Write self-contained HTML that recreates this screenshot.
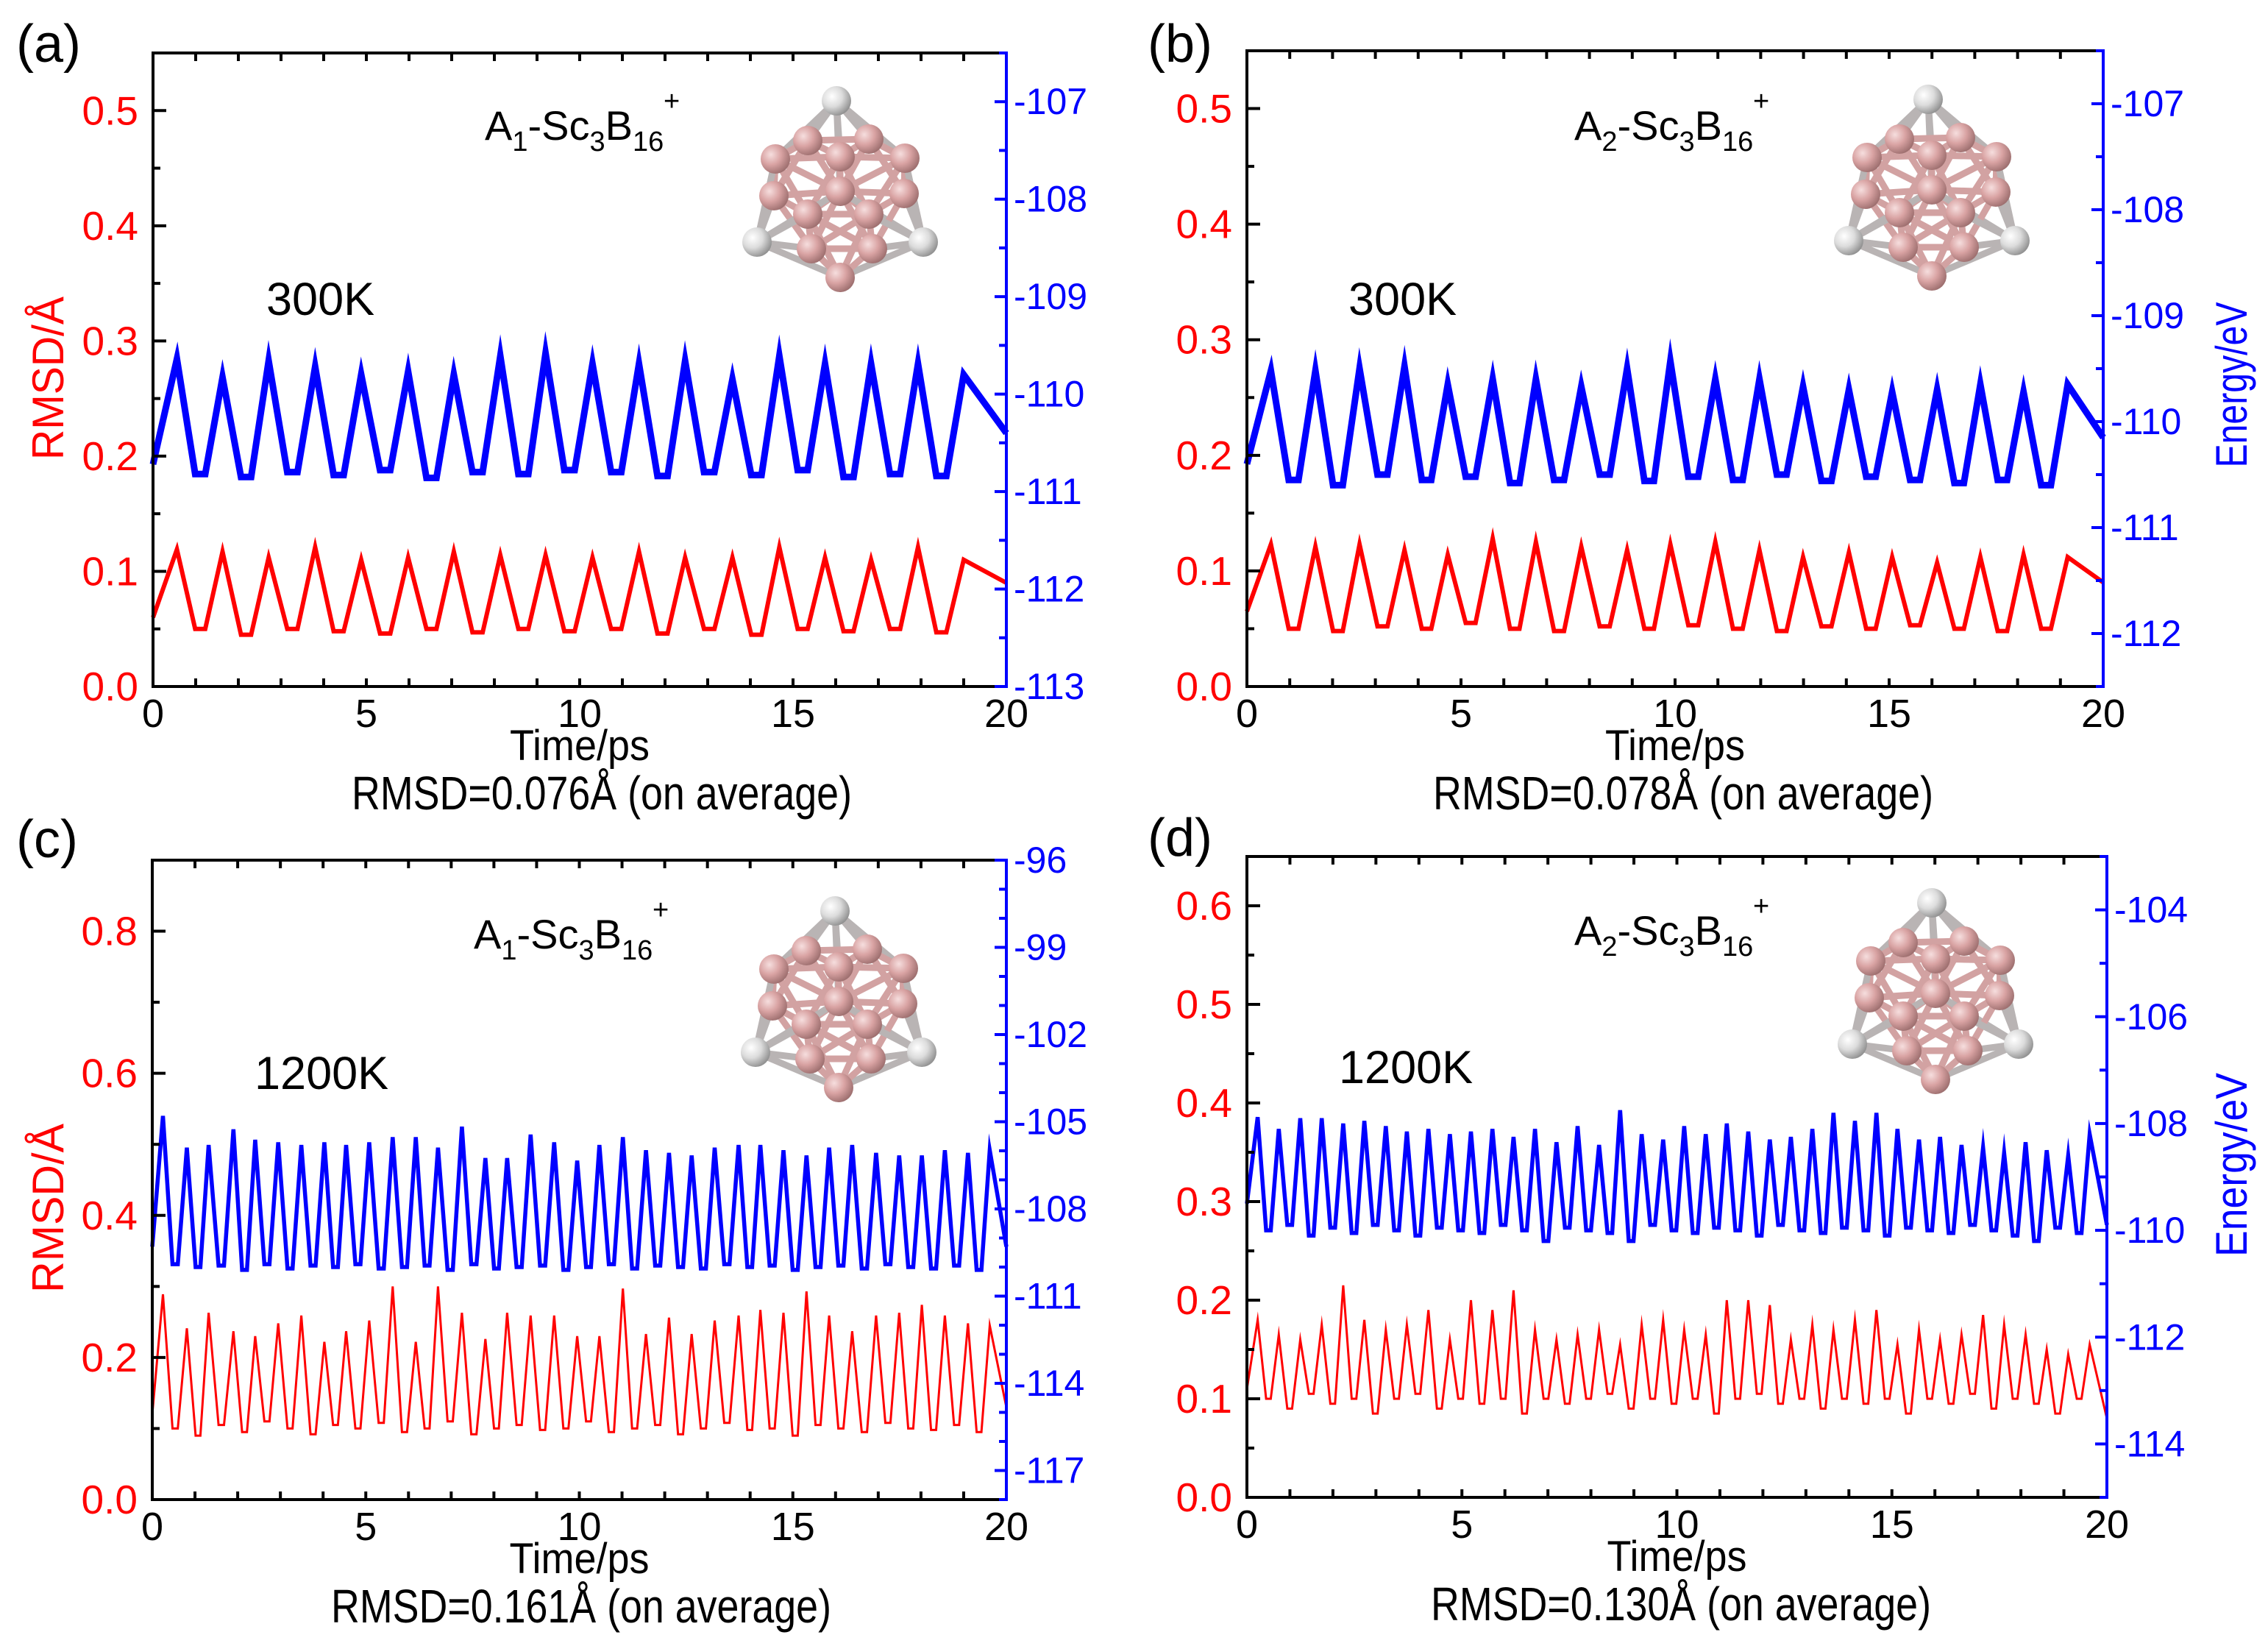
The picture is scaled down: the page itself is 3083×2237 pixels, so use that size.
<!DOCTYPE html>
<html><head><meta charset="utf-8"><style>
html,body{margin:0;padding:0;background:#fff;}
svg{display:block;font-family:"Liberation Sans",Arial,sans-serif;}
</style></head><body>
<svg id="fig" width="3083" height="2237" viewBox="0 0 3083 2237" xmlns="http://www.w3.org/2000/svg">
<defs>
<radialGradient id="gPink" cx="0.35" cy="0.35" r="0.7"><stop offset="0" stop-color="#f6dede"/><stop offset="0.5" stop-color="#d9a3a3"/><stop offset="1" stop-color="#9c6e6e"/></radialGradient>
<radialGradient id="gWhite" cx="0.35" cy="0.35" r="0.7"><stop offset="0" stop-color="#ffffff"/><stop offset="0.5" stop-color="#dcdcdc"/><stop offset="1" stop-color="#8f8f8f"/></radialGradient>
</defs>
</svg>
<script>
// ---------- DATA ----------
const timeTicks = [0,5,10,15,20];
// panel a (300K, A1)
const aPeakT = [0.56,1.63,2.71,3.8,4.88,5.98,7.05,8.14,9.2,10.3,11.39,12.47,13.58,14.68,15.75,16.83,17.93,19.0];
const aEnergyPeaks = [-109.64,-109.83,-109.66,-109.72,-109.80,-109.77,-109.80,-109.61,-109.58,-109.69,-109.69,-109.66,-109.85,-109.61,-109.69,-109.69,-109.69,-109.80];
const aEnergyTroughs = [-110.72,-110.82,-110.85,-110.8,-110.83,-110.78,-110.86,-110.8,-110.82,-110.78,-110.8,-110.84,-110.8,-110.83,-110.78,-110.85,-110.82,-110.84,-110.4];
const aRmsdPeaks = [0.119,0.117,0.112,0.121,0.110,0.112,0.117,0.114,0.114,0.112,0.117,0.112,0.112,0.121,0.112,0.110,0.121,0.110];
const aRmsdTroughs = [0.06,0.05,0.045,0.05,0.048,0.046,0.05,0.047,0.05,0.048,0.05,0.046,0.05,0.045,0.05,0.048,0.05,0.047,0.09];
// panel b (300K, A2)
const bPeakT = [0.56,1.6,2.63,3.68,4.69,5.74,6.75,7.81,8.88,9.89,10.94,11.97,12.99,14.06,15.07,16.12,17.13,18.14,19.17];
const bEnergyPeaks = [-109.52,-109.52,-109.50,-109.48,-109.65,-109.60,-109.60,-109.67,-109.50,-109.43,-109.60,-109.60,-109.67,-109.70,-109.72,-109.70,-109.65,-109.72,-109.65];
const bEnergyTroughs = [-110.4,-110.55,-110.6,-110.5,-110.55,-110.52,-110.58,-110.55,-110.5,-110.56,-110.52,-110.55,-110.5,-110.56,-110.52,-110.55,-110.58,-110.55,-110.6,-110.15];
const bRmsdPeaks = [0.123,0.121,0.123,0.118,0.114,0.128,0.125,0.121,0.118,0.123,0.125,0.118,0.112,0.116,0.112,0.107,0.112,0.114,0.112];
const bRmsdTroughs = [0.065,0.05,0.048,0.052,0.05,0.055,0.05,0.048,0.052,0.05,0.053,0.05,0.048,0.052,0.05,0.053,0.05,0.048,0.05,0.09];
// panel c (1200K, A1)
const cPeakT = [0.25,0.81,1.32,1.9,2.41,2.95,3.49,4.03,4.54,5.08,
  5.63,6.17,6.69,7.25,7.8,8.31,8.86,9.41,9.95,10.47,
  11.02,11.56,12.1,12.63,13.17,13.73,14.24,14.78,15.32,15.85,
  16.39,16.95,17.49,18.02,18.56,19.1,19.61];
const cEnergyPeaks = [-104.80,-105.89,-105.80,-105.26,-105.62,-105.71,-105.80,-105.71,-105.80,-105.71,
  -105.53,-105.53,-105.89,-105.17,-106.25,-106.25,-105.44,-105.71,-106.34,-105.80,
  -105.53,-105.98,-106.07,-106.16,-105.89,-105.80,-105.80,-105.98,-106.16,-105.89,
  -105.80,-106.07,-106.16,-106.16,-105.98,-106.07,-105.98];
const cEnergyTroughs = [-109.3,
  -109.9,-110.0,-109.95,-110.1,-109.9,-110.05,-109.95,-110.0,-109.9,-110.05,
  -110.0,-109.95,-110.1,-109.9,-110.05,-110.0,-109.95,-110.1,-110.0,-109.9,
  -110.05,-109.95,-110.0,-110.05,-109.9,-110.0,-109.95,-110.1,-110.0,-109.95,
  -110.05,-109.9,-110.0,-110.05,-109.95,-110.1,
  -109.3];
const cRmsdPeaks = [0.289,0.241,0.263,0.237,0.230,0.248,0.259,0.222,0.237,0.252,
  0.300,0.222,0.300,0.263,0.226,0.263,0.259,0.259,0.230,0.230,
  0.297,0.233,0.256,0.233,0.252,0.259,0.267,0.263,0.293,0.259,
  0.237,0.259,0.263,0.274,0.259,0.248,0.245];
const cRmsdTroughs = [0.12,
  0.1,0.09,0.105,0.095,0.11,0.1,0.092,0.105,0.1,0.108,
  0.095,0.1,0.11,0.092,0.1,0.105,0.098,0.1,0.11,0.095,
  0.1,0.105,0.092,0.1,0.108,0.098,0.1,0.09,0.105,0.1,
  0.095,0.108,0.1,0.098,0.105,0.095,
  0.13];
// panel d (1200K, A2)
const dPeakT = [0.25,0.74,1.24,1.74,2.24,2.73,3.23,3.72,4.22,4.72,
  5.21,5.71,6.2,6.7,7.2,7.69,8.19,8.68,9.18,9.68,
  10.17,10.67,11.16,11.66,12.16,12.65,13.15,13.64,14.14,14.64,
  15.13,15.63,16.12,16.62,17.12,17.61,18.11,18.6,19.1,19.6];
const dEnergyPeaks = [-107.88,-108.1,-107.9,-107.9,-108.0,-107.95,-108.05,-108.15,-108.1,-108.2,
  -108.15,-108.1,-108.25,-108.1,-108.35,-108.05,-108.4,-107.75,-108.2,-108.3,
  -108.05,-108.2,-108.0,-108.15,-108.3,-108.25,-108.1,-107.8,-107.95,-107.8,
  -108.1,-108.3,-108.25,-108.4,-108.45,-108.55,-108.35,-108.5,-108.6,-108.2];
const dEnergyTroughs = [-109.5,
  -110.0,-109.9,-110.1,-109.95,-110.05,-109.9,-110.0,-110.1,-109.95,-110.0,
  -110.05,-109.9,-110.0,-110.2,-109.95,-110.0,-110.05,-110.2,-109.9,-110.0,
  -110.05,-109.95,-110.0,-110.1,-109.9,-110.0,-110.05,-109.95,-110.0,-110.1,
  -109.95,-110.0,-110.05,-109.9,-110.0,-110.1,-110.2,-109.95,-110.05,
  -109.9];
const dRmsdPeaks = [0.18,0.165,0.16,0.175,0.215,0.18,0.17,0.175,0.19,0.16,
  0.2,0.19,0.21,0.17,0.16,0.165,0.17,0.155,0.175,0.18,
  0.17,0.165,0.2,0.2,0.195,0.16,0.175,0.17,0.18,0.19,
  0.155,0.17,0.16,0.165,0.185,0.175,0.165,0.15,0.145,0.155];
const dRmsdTroughs = [0.11,
  0.1,0.09,0.105,0.095,0.1,0.085,0.1,0.105,0.09,0.1,
  0.095,0.1,0.085,0.1,0.095,0.1,0.105,0.09,0.1,0.095,
  0.1,0.085,0.1,0.105,0.095,0.1,0.09,0.1,0.095,0.1,
  0.085,0.1,0.095,0.105,0.09,0.1,0.095,0.085,0.1,
  0.08];

// ---------- DRAWING ----------
const NS = 'http://www.w3.org/2000/svg';
const svg = document.getElementById('fig');
function mk(tag, attrs, parent){
  const e = document.createElementNS(NS, tag);
  for (const k in attrs) e.setAttribute(k, attrs[k]);
  (parent||svg).appendChild(e);
  return e;
}
function fmtL(v, d){ return v.toFixed(d); }

const atoms = [[-5,-122,1],[-44,-68,0],[39,-70,0],[-88,-43,0],[88,-44,0],[0,-46,0],
  [-90,7,0],[0,1,0],[87,4,0],[-44,32,0],[39,32,0],[-113,70,1],[113,70,1],[-39,79,0],[44,79,0],[0,118,0]];

function molecule(cx, cy, name){
  const g = mk('g', {transform:'translate('+cx+','+cy+')'});
  
  
  for (let i=0;i<atoms.length;i++) for (let j=i+1;j<atoms.length;j++){
    const dx=atoms[i][0]-atoms[j][0], dy=atoms[i][1]-atoms[j][1];
    const dist=Math.sqrt(dx*dx+dy*dy);
    const lim = (atoms[i][2]||atoms[j][2]) ? 135 : 100;
    if (dist<lim){
      const white = atoms[i][2]||atoms[j][2];
      const l = mk('line',{x1:atoms[i][0],y1:atoms[i][1],x2:atoms[j][0],y2:atoms[j][1],stroke:white?'#b9b4b4':'#d2a2a2','stroke-width':9,'stroke-linecap':'round'},g);
      
      
    }
  }
  const order = atoms.map((a,i)=>i).sort((p,q)=>atoms[p][1]-atoms[q][1]);
  for (const i of order){
    const a = atoms[i];
    const c = mk('circle',{cx:a[0],cy:a[1],r:a[2]?20:20,fill:a[2]?'url(#gWhite)':'url(#gPink)'},g);
    
    
  }
}

function panel(cfg){
  const {L,R,T,B,yl,yr} = cfg;
  const g = mk('g',{});
  
  
  const X = t => L + (t-0)/(20-0)*(R-L);
  const YL = v => B - (v-yl[0])/(yl[1]-yl[0])*(B-T);
  const YR = v => B - (v-yr[0])/(yr[1]-yr[0])*(B-T);

  function series(peakT, peaks, troughs, Y, color, w, name){
    const pts = [[X(0), Y(troughs[0])]];
    for (let i=0;i<peakT.length;i++){
      if (i>0){
        const a = peakT[i-1], b = peakT[i], gap = b-a;
        pts.push([X(a+0.4*gap), Y(troughs[i])]);
        pts.push([X(a+0.62*gap), Y(troughs[i])]);
      }
      pts.push([X(peakT[i]), Y(peaks[i])]);
    }
    pts.push([X(20), Y(troughs[troughs.length-1])]);
    const p = mk('polyline',{points:pts.map(p=>p[0].toFixed(1)+','+p[1].toFixed(1)).join(' '),fill:'none',stroke:color,'stroke-width':w,'stroke-linejoin':'miter','stroke-miterlimit':10},g);
    
    
  }
  series(cfg.peakT, cfg.eP, cfg.eT, YR, '#0000ff', cfg.wb, 'energy-line');
  series(cfg.peakT, cfg.rP, cfg.rT, YL, '#ff0000', cfg.wr, 'rmsd-line');

  const f1 = mk('polyline',{points:`${R},${T} ${L},${T} ${L},${B} ${R},${B}`,fill:'none',stroke:'#000','stroke-width':4},g);
  
  
  const f2 = mk('line',{x1:R,y1:T-2,x2:R,y2:B+2,stroke:'#0000ff','stroke-width':4},g);
  
  

  for (let t=1;t<20;t++){
    mk('line',{x1:X(t),y1:B,x2:X(t),y2:B-11,stroke:'#000','stroke-width':4},g);
    mk('line',{x1:X(t),y1:T,x2:X(t),y2:T+11,stroke:'#000','stroke-width':4},g);
  }
  for (const t of timeTicks){
    const tx = mk('text',{x:X(t),y:B+55,'font-size':54,'text-anchor':'middle',fill:'#000'},g);
    tx.textContent = String(t);
    
    
  }
  for (let v=yl[0]; v<=yl[1]+1e-9; v+=cfg.lMinor){
    const major = Math.abs(v/cfg.lMajor - Math.round(v/cfg.lMajor))<1e-6;
    if (v<=yl[0]+1e-9) continue;
    mk('line',{x1:L,y1:YL(v),x2:L+(major?18:10),y2:YL(v),stroke:'#000','stroke-width':4},g);
  }
  for (let v=yl[0]; v<=cfg.lMax+1e-9; v+=cfg.lMajor){
    const tx = mk('text',{x:L-20,y:YL(v)+19,'font-size':55,'text-anchor':'end',fill:'#ff0000'},g);
    tx.textContent = fmtL(v,1);
    
    
  }
  for (let v=Math.ceil(yr[0]/cfg.rMinor)*cfg.rMinor; v<=yr[1]+1e-9; v+=cfg.rMinor){
    const major = cfg.rLabels.some(m=>Math.abs(m-v)<1e-6);
    mk('line',{x1:R,y1:YR(v),x2:R-(major?16:10),y2:YR(v),stroke:'#0000ff','stroke-width':4},g);
  }
  for (const v of cfg.rLabels){
    const tx = mk('text',{x:R+10,y:YR(v)+17,'font-size':50,'text-anchor':'start',fill:'#0000ff'},g);
    tx.textContent = String(v);
    
    
  }
  const xt = mk('text',{x:(L+R)/2,y:B+100,'font-size':58,'text-anchor':'middle',textLength:190,lengthAdjust:'spacingAndGlyphs',fill:'#000'},g);
  xt.textContent='Time/ps';
  
  
  const cap = mk('text',{x:cfg.capX,y:B+167,'font-size':64,'text-anchor':'middle',textLength:680,lengthAdjust:'spacingAndGlyphs',fill:'#000'},g);
  cap.textContent = cfg.caption;
  
  
  const pl = mk('text',{x:cfg.labX,y:cfg.labY,'font-size':72,fill:'#000'},g);
  pl.textContent = '('+cfg.id+')';
  
  
  const tp = mk('text',{x:cfg.tX,y:cfg.tY,'font-size':63,fill:'#000'},g);
  tp.textContent = cfg.temp;
  
  
  const fm = mk('text',{x:cfg.fX,y:cfg.fY,'font-size':56,fill:'#000'},g);
  
  
  fm.innerHTML = 'A<tspan font-size="38" dy="15">'+cfg.iso+'</tspan><tspan dy="-15">-Sc</tspan><tspan font-size="38" dy="15">3</tspan><tspan dy="-15">B</tspan><tspan font-size="38" dy="15">16</tspan>';
  const sp = mk('text',{x:cfg.fX+243,y:cfg.fY-40,'font-size':38,fill:'#000'},g);
  sp.textContent='+';
  
  
  molecule(cfg.mX, cfg.mY, 'cluster-structure');
}

panel({id:'a',L:208,R:1368,T:72,B:933,yl:[0,0.55],yr:[-113,-106.5],lMajor:0.1,lMinor:0.05,lMax:0.5,
  rMinor:0.5,rLabels:[-113,-112,-111,-110,-109,-108,-107],
  peakT:aPeakT,eP:aEnergyPeaks,eT:aEnergyTroughs,rP:aRmsdPeaks,rT:aRmsdTroughs,wb:9,wr:6,
  capX:818,caption:'RMSD=0.076Å (on average)',labX:22,labY:84,tX:362,tY:428,temp:'300K',iso:'1',fX:659,fY:190,mX:1142,mY:259});
panel({id:'b',L:1695,R:2859,T:69,B:933,yl:[0,0.55],yr:[-112.5,-106.5],lMajor:0.1,lMinor:0.05,lMax:0.5,
  rMinor:0.5,rLabels:[-112,-111,-110,-109,-108,-107],
  peakT:bPeakT,eP:bEnergyPeaks,eT:bEnergyTroughs,rP:bRmsdPeaks,rT:bRmsdTroughs,wb:9,wr:6,
  capX:2288,caption:'RMSD=0.078Å (on average)',labX:1560,labY:84,tX:1833,tY:428,temp:'300K',iso:'2',fX:2140,fY:190,mX:2626,mY:257});
panel({id:'c',L:207,R:1368,T:1169,B:2038,yl:[0,0.9],yr:[-118,-96],lMajor:0.2,lMinor:0.1,lMax:0.8,
  rMinor:1,rLabels:[-117,-114,-111,-108,-105,-102,-99,-96],
  peakT:cPeakT,eP:cEnergyPeaks,eT:cEnergyTroughs,rP:cRmsdPeaks,rT:cRmsdTroughs,wb:5.5,wr:3,
  capX:790,caption:'RMSD=0.161Å (on average)',labX:22,labY:1165,tX:346,tY:1480,temp:'1200K',iso:'1',fX:644,fY:1289,mX:1140,mY:1360});
panel({id:'d',L:1695,R:2864,T:1164,B:2035,yl:[0,0.65],yr:[-115,-103],lMajor:0.1,lMinor:0.05,lMax:0.6,
  rMinor:1,rLabels:[-114,-112,-110,-108,-106,-104],
  peakT:dPeakT,eP:dEnergyPeaks,eT:dEnergyTroughs,rP:dRmsdPeaks,rT:dRmsdTroughs,wb:5.5,wr:3,
  capX:2285,caption:'RMSD=0.130Å (on average)',labX:1560,labY:1163,tX:1820,tY:1472,temp:'1200K',iso:'2',fX:2140,fY:1284,mX:2631,mY:1349});

function vtitle(x, y, txt, color, len, name){
  const t = mk('text',{x:0,y:0,'font-size':60,fill:color,'text-anchor':'middle',textLength:len,lengthAdjust:'spacingAndGlyphs',transform:`translate(${x},${y}) rotate(-90)`});
  t.textContent = txt;
  
  
}
vtitle(86, 514, 'RMSD/Å', '#ff0000', 222, 'y-axis-title-left-a');
vtitle(86, 1642, 'RMSD/Å', '#ff0000', 230, 'y-axis-title-left-c');
vtitle(3054, 523, 'Energy/eV', '#0000ff', 225, 'y-axis-title-right-b');
vtitle(3054, 1583, 'Energy/eV', '#0000ff', 250, 'y-axis-title-right-d');
</script>
</body></html>
